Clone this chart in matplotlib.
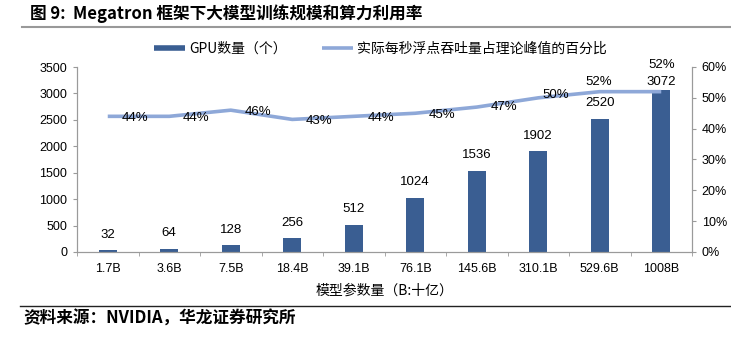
import matplotlib
matplotlib.use("Agg")
import matplotlib.pyplot as plt
from matplotlib.lines import Line2D
from matplotlib.ticker import FuncFormatter, MultipleLocator
import numpy as np

plt.rcParams['font.family'] = ['Liberation Sans', 'Noto Sans CJK SC', 'DejaVu Sans']

# data
models = ["1.7B", "3.6B", "7.5B", "18.4B", "39.1B", "76.1B", "145.6B", "310.1B", "529.6B", "1008B"]
gpus = [32, 64, 128, 256, 512, 1024, 1536, 1902, 2520, 3072]
util = [0.44, 0.44, 0.46, 0.43, 0.44, 0.45, 0.47, 0.50, 0.52, 0.52]
util_labels = ["44%", "44%", "46%", "43%", "44%", "45%", "47%", "50%", "52%", "52%"]

title = "图 9:  Megatron 框架下大模型训练规模和算力利用率"
source = "资料来源：NVIDIA，华龙证券研究所"
bar_name = "GPU数量（个）"
line_name = "实际每秒浮点吞吐量占理论峰值的百分比"
xlabel = "模型参数量（B:十亿）"

bar_color = "#3A5E92"
line_color = "#8EA8D8"
spine_color = "#9A9A9A"

fig = plt.figure(figsize=(7.31, 3.37), dpi=100)
ax = fig.add_axes([77 / 731, 1 - 252 / 337, 615 / 731, 185 / 337])
ax2 = ax.twinx()

x = np.arange(len(models))
ax.bar(x, gpus, width=0.3, color=bar_color, zorder=2)
ax.set_xlim(-0.5, len(models) - 0.5)
ax.set_ylim(0, 3500)
ax.yaxis.set_major_locator(MultipleLocator(500))
ax.set_xticks(x)
ax.set_xticklabels(models, fontsize=9)
ax.set_xticks(np.arange(len(models) + 1) - 0.5, minor=True)
ax.tick_params(axis='x', which='major', length=0, pad=8)
ax.tick_params(axis='x', which='minor', length=3, color=spine_color)
ax.tick_params(axis='y', length=3, color=spine_color, labelsize=9, pad=4)
ax.set_xlabel(xlabel, fontsize=10, labelpad=6, family=['Noto Sans CJK SC'])

for s in ["top"]:
    ax.spines[s].set_visible(False)
    ax2.spines[s].set_visible(False)
for s in ["left", "right", "bottom"]:
    ax.spines[s].set_color(spine_color)
    ax2.spines[s].set_color(spine_color)

# bar value labels
for i, v in enumerate(gpus):
    dy = 7 if i < len(gpus) - 1 else 1
    ax.annotate(str(v), (x[i], v), xytext=(0, dy), textcoords="offset points",
                ha="center", va="bottom", fontsize=9.5)

ax2.plot(x, util, color=line_color, lw=2.6, solid_capstyle="butt", zorder=3)
ax2.set_ylim(0, 0.6)
ax2.yaxis.set_major_locator(MultipleLocator(0.1))
ax2.yaxis.set_major_formatter(FuncFormatter(lambda v, p: f"{v * 100:.0f}%"))
ax2.tick_params(axis='y', length=3, color=spine_color, labelsize=9, pad=4)

# line value labels
offsets = [(10, -1), (10, -1), (10, -1), (10, -1), (10, -1), (10, -1), (10, 0), (3, 2), (-10, 7), (-9, 19)]
for i, v in enumerate(util):
    ax2.annotate(util_labels[i], (x[i], v), xytext=offsets[i], textcoords="offset points",
                 ha="left", va="center", fontsize=9.5)

handles = [Line2D([], [], color=bar_color, lw=4, solid_capstyle="butt"),
           Line2D([], [], color=line_color, lw=2.6, solid_capstyle="butt")]
fig.legend(handles, [bar_name, line_name], loc="center", ncol=2, frameon=False,
           bbox_to_anchor=((153 + 608) / 2 / 731, 1 - 49 / 337),
           prop={'family': ['Noto Sans CJK SC'], 'size': 10},
           handlelength=2.2, handletextpad=0.3, columnspacing=2.6)

fig.text(30 / 731, 1 - 14 / 337, title, fontsize=12, fontweight="bold",
         ha="left", va="center", family=['Noto Sans CJK SC'])
fig.add_artist(Line2D([22 / 731, 1], [1 - 27 / 337] * 2, color="#999999", lw=1.5))
fig.add_artist(Line2D([20 / 731, 1], [1 - 306 / 337] * 2, color="#222222", lw=1))
fig.text(23 / 731, 1 - 319 / 337, source, fontsize=12, fontweight="bold",
         ha="left", va="center", family=['Noto Sans CJK SC'])

fig.savefig("out.png", dpi=100)
